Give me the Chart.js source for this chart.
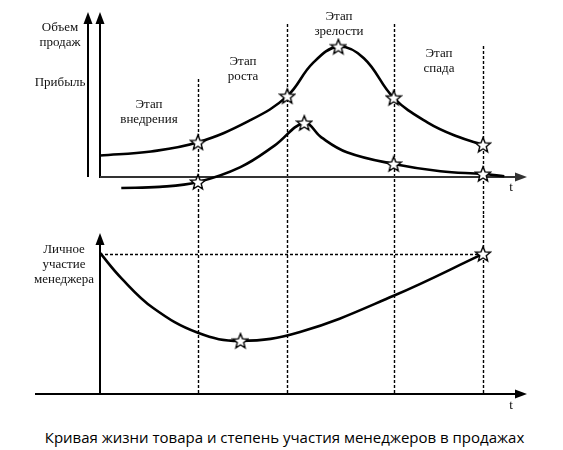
<!DOCTYPE html>
<html>
<head>
<meta charset="utf-8">
<script src="https://cdn.jsdelivr.net/npm/chart.js@4.4.1/dist/chart.umd.min.js"></script>
<style>
  body { margin: 0; background: white; width: 563px; height: 450px; position: relative; overflow: hidden; }
  canvas { position: absolute; left: 0; }
  #top { top: 0; }
  #bottom { top: 215px; }
  .caption { position: absolute; top: 427px; left: 3px; width: 563px; text-align: center;
             font: 15px "Open Sans", sans-serif; color: #000; white-space: nowrap; }
</style>
</head>
<body>
<canvas id="top" width="563" height="215"></canvas>
<canvas id="bottom" width="563" height="200"></canvas>
<div class="caption">Кривая жизни товара и степень участия менеджеров в продажах</div>
<script>
'use strict';

// time runs 0..100, stage borders
const stageT = [23, 44, 69, 90];
const stageNames = [['Этап', 'внедрения'], ['Этап', 'роста'], ['Этап', 'зрелости'], ['Этап', 'спада']];

// sales volume
const salesT = [0, 12, 23, 35, 44, 50, 56, 62, 69, 77, 84, 90];
const salesV = [13, 15.5, 21, 34, 49, 69, 79, 72, 48, 33, 24.5, 19.5];
const salesStars = [23, 44, 56, 69, 90];

// profit
const profitT = [5, 14, 23, 33, 41, 48, 52, 58, 69, 80, 90, 95];
const profitV = [-6.7, -6, -3, 6, 19, 32.7, 24, 15, 7.9, 3.5, 1.8, 0.5];
const profitStars = [23, 48, 69, 90];

// personal involvement of the manager
const managerT = [0, 5, 12.5, 23, 33, 47, 69, 90];
const managerV = [87.6, 72, 53.4, 38, 33, 38.5, 61, 87];
const managerStars = [33, 90];

const SERIF = '13px "Liberation Serif", "Times New Roman", serif';

function makeStar() {
  const c = document.createElement('canvas');
  c.width = 18;
  c.height = 18;
  const g = c.getContext('2d');
  g.beginPath();
  for (let i = 0; i < 10; i++) {
    const r = i % 2 ? 3.4 : 7.8;
    const a = -Math.PI / 2 + i * Math.PI / 5;
    g.lineTo(9 + r * Math.cos(a), 9.6 + r * Math.sin(a));
  }
  g.closePath();
  g.fillStyle = '#fff';
  g.fill();
  g.lineWidth = 1.4;
  g.strokeStyle = '#000';
  g.stroke();
  return c;
}
const star = makeStar();

function curve(ts, vs, stars) {
  return {
    data: ts.map((t, i) => ({x: t, y: vs[i]})),
    borderColor: '#000',
    borderWidth: 2.6,
    tension: 0.4,
    pointStyle: star,
    pointRadius: (c) => stars.includes(ts[c.dataIndex]) ? 7 : 0,
    pointHoverRadius: 0,
    clip: false,
  };
}

function arrow(ctx, x1, y1, x2, y2, color) {
  const a = Math.atan2(y2 - y1, x2 - x1);
  const len = 12, half = 4.5;
  ctx.save();
  ctx.strokeStyle = color;
  ctx.fillStyle = color;
  ctx.lineWidth = 2;
  ctx.setLineDash([]);
  ctx.beginPath();
  ctx.moveTo(x1, y1);
  ctx.lineTo(x2 - Math.cos(a) * len * 0.8, y2 - Math.sin(a) * len * 0.8);
  ctx.stroke();
  ctx.beginPath();
  ctx.moveTo(x2, y2);
  ctx.lineTo(x2 - Math.cos(a) * len - Math.sin(a) * half, y2 - Math.sin(a) * len + Math.cos(a) * half);
  ctx.lineTo(x2 - Math.cos(a) * len + Math.sin(a) * half, y2 - Math.sin(a) * len - Math.cos(a) * half);
  ctx.closePath();
  ctx.fill();
  ctx.restore();
}

function dashed(ctx, x1, y1, x2, y2) {
  ctx.save();
  ctx.strokeStyle = '#000';
  ctx.lineWidth = 1.4;
  ctx.setLineDash([3, 2]);
  ctx.beginPath();
  ctx.moveTo(x1, y1);
  ctx.lineTo(x2, y2);
  ctx.stroke();
  ctx.restore();
}

function texts(ctx, lines, x, y) {
  ctx.save();
  ctx.font = SERIF;
  ctx.fillStyle = '#111';
  ctx.textAlign = 'center';
  ctx.textBaseline = 'middle';
  lines.forEach((l, i) => ctx.fillText(l, x, y + i * 15));
  ctx.restore();
}

function baseOptions(padding, ymin, ymax) {
  return {
    responsive: false,
    animation: false,
    events: [],
    layout: {padding: padding},
    scales: {
      x: {type: 'linear', min: 0, max: 100, display: false},
      y: {type: 'linear', min: ymin, max: ymax, display: false},
    },
    plugins: {legend: {display: false}, tooltip: {enabled: false}},
  };
}

// top panel: sales and profit
const topDecor = {
  id: 'topDecor',
  beforeDatasetsDraw(chart) {
    const {ctx, scales: {x, y}} = chart;
    const y0 = y.getPixelForValue(0);
    const tops = [79, 24, 24, 46];
    stageT.forEach((t, i) => {
      const px = Math.round(x.getPixelForValue(t)) + 0.5;
      dashed(ctx, px, tops[i], px, chart.height);
    });
    arrow(ctx, 88, y0, 88, 12, '#000');
    arrow(ctx, 100, y0 + 1, 100, 12, '#000');
    arrow(ctx, 100, y0, 527, y0, '#333');
  },
  afterDraw(chart) {
    const {ctx} = chart;
    texts(ctx, ['Объем', 'продаж'], 60, 28);
    texts(ctx, ['Прибыль'], 60, 83);
    const pos = [[149, 105], [243, 62], [339, 17], [439, 54]];
    stageNames.forEach((n, i) => texts(ctx, n, pos[i][0], pos[i][1]));
    texts(ctx, ['t'], 511, 188);
  }
};

// bottom panel: manager involvement
const bottomDecor = {
  id: 'bottomDecor',
  beforeDatasetsDraw(chart) {
    const {ctx, scales: {x, y}} = chart;
    const y0 = y.getPixelForValue(0);
    stageT.forEach((t) => {
      const px = Math.round(x.getPixelForValue(t)) + 0.5;
      dashed(ctx, px, 0, px, y0);
    });
    const yl = Math.round(y.getPixelForValue(managerV[managerV.length - 1])) + 0.5;
    dashed(ctx, x.getPixelForValue(0), yl, x.getPixelForValue(stageT[3]), yl);
    arrow(ctx, 100, y0, 100, 18, '#000');
    arrow(ctx, 35, y0, 527, y0, '#000');
  },
  afterDraw(chart) {
    const {ctx} = chart;
    texts(ctx, ['Личное', 'участие', 'менеджера'], 64, 35);
    texts(ctx, ['t'], 511, 191);
  }
};

new Chart(document.getElementById('top'), {
  type: 'line',
  data: {datasets: [curve(salesT, salesV, salesStars), curve(profitT, profitV, profitStars)]},
  options: baseOptions({left: 100, right: 37.4, top: 12, bottom: 21.5}, -10, 100),
  plugins: [topDecor],
});

new Chart(document.getElementById('bottom'), {
  type: 'line',
  data: {datasets: [curve(managerT, managerV, managerStars)]},
  options: baseOptions({left: 100, right: 37.4, top: 18, bottom: 21}, 0, 100),
  plugins: [bottomDecor],
});
</script>
</body>
</html>
